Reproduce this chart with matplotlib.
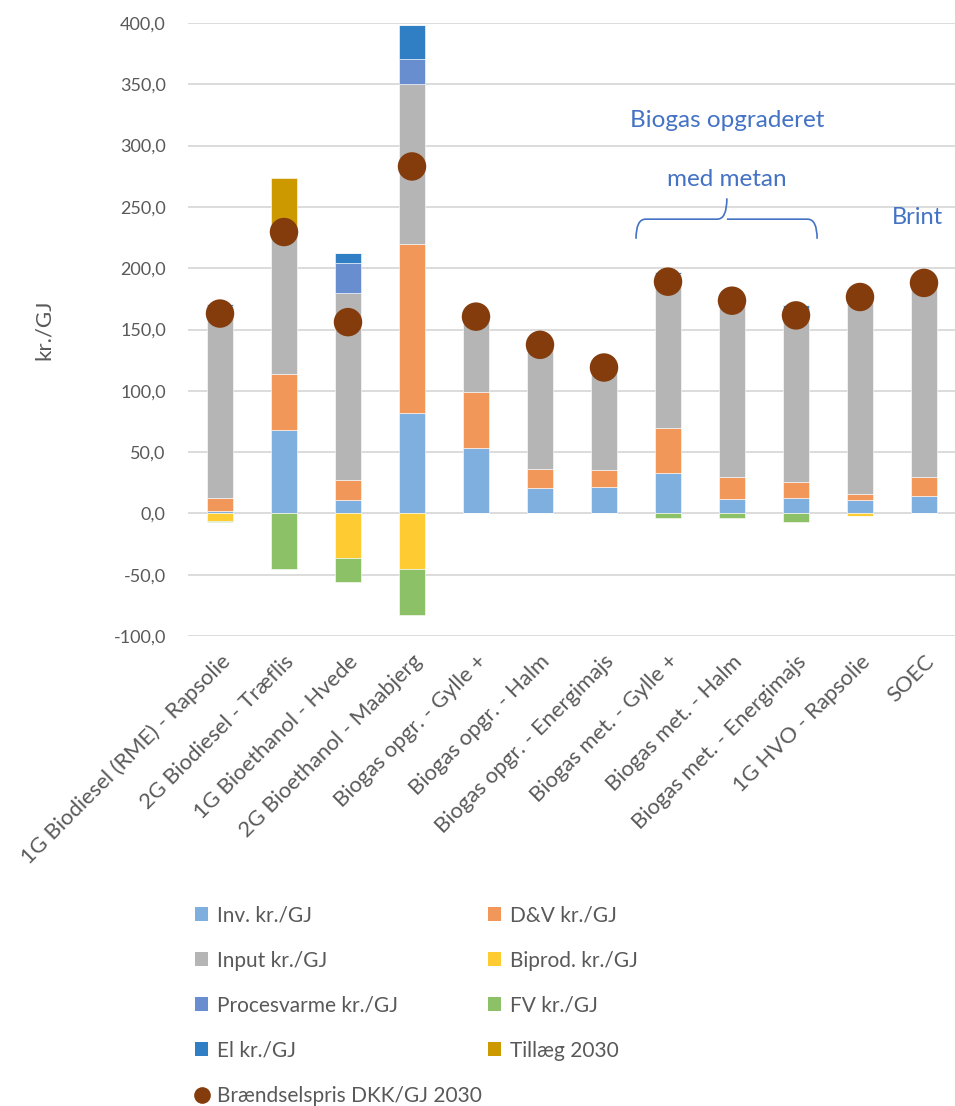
import numpy as np
import matplotlib
matplotlib.use("Agg")
import matplotlib.pyplot as plt
from matplotlib.path import Path
from matplotlib.patches import PathPatch
from matplotlib.lines import Line2D
from matplotlib.patches import Patch

plt.rcParams['font.family'] = ['Lato', 'DejaVu Sans']

categories = ["1G Biodiesel (RME) - Rapsolie", "2G Biodiesel - Træflis", "1G Bioethanol - Hvede",
              "2G Bioethanol - Maabjerg", "Biogas opgr. - Gylle +", "Biogas opgr. - Halm",
              "Biogas opgr. - Energimajs", "Biogas met. - Gylle +", "Biogas met. - Halm",
              "Biogas met. - Energimajs", "1G HVO - Rapsolie", "SOEC"]

inv =         [2.0, 68.0, 10.6, 81.6, 53.6, 21.0, 21.5, 32.6, 12.0, 12.5, 11.3, 14.6]
dv =          [10.5, 45.4, 16.4, 138.4, 45.1, 15.6, 13.5, 37.4, 17.5, 12.9, 4.4, 15.4]
input_ =      [157.0, 118.0, 152.5, 130.0, 57.3, 98.4, 81.0, 125.0, 140.5, 140.0, 158.3, 156.0]
biprod =      [-6.5, 0.0, -36.0, -45.0, 0.0, 0.0, 0.0, 0.0, 0.0, 0.0, -1.8, 0.0]
procesvarme = [0.0, 0.0, 24.5, 21.0, 0.0, 0.0, 0.0, 0.0, 0.0, 0.0, 0.0, 0.0]
fv =          [-0.8, -45.0, -20.0, -38.0, 0.0, 0.0, 0.0, -4.0, -4.0, -7.0, -0.5, 0.0]
el =          [1.5, 0.0, 8.0, 27.0, 1.5, 0.0, 0.0, 2.0, 0.0, 4.5, 0.0, 0.0]
tillaeg =     [0.0, 42.5, 0.0, 0.0, 0.0, 0.0, 0.0, 0.0, 0.0, 0.0, 0.0, 0.0]
price_2030 =  [163.0, 229.5, 156.0, 283.0, 160.5, 137.5, 119.0, 189.0, 173.5, 161.5, 176.5, 188.0]

yticks = [-100, -50, 0, 50, 100, 150, 200, 250, 300, 350, 400]

col_inv = "#7EAFDE"
col_dv = "#F1975A"
col_input = "#B5B5B5"
col_biprod = "#FFCB33"
col_proc = "#698ED0"
col_fv = "#8DC168"
col_el = "#307EC3"
col_till = "#CC9A00"
col_dot = "#843C0C"
txt_col = "#595959"
ann_col = "#4472C4"

fig = plt.figure(figsize=(9.55, 11.06), dpi=100)
ax = fig.add_axes([188/955, 1-636/1106, (956-188)/955, (636-23)/1106])

x = np.arange(len(categories))
w = 0.41
pos_series = [(inv, col_inv, "Inv. kr./GJ"), (dv, col_dv, "D&V kr./GJ"),
              (input_, col_input, "Input kr./GJ"), (procesvarme, col_proc, "Procesvarme kr./GJ"),
              (el, col_el, "El kr./GJ"), (tillaeg, col_till, "Tillæg 2030")]
neg_series = [(biprod, col_biprod, "Biprod. kr./GJ"), (fv, col_fv, "FV kr./GJ")]

bottom = np.zeros(len(x))
for vals, c, lab in pos_series:
    v = np.array(vals)
    ax.bar(x, v, w, bottom=bottom, color=c, edgecolor="#FFFFFF", linewidth=0.4, zorder=3)
    bottom = bottom + v
nbottom = np.zeros(len(x))
for vals, c, lab in neg_series:
    v = np.array(vals)
    ax.bar(x, v, w, bottom=nbottom, color=c, edgecolor="#FFFFFF", linewidth=0.4, zorder=3)
    nbottom = nbottom + v

ax.scatter(x, price_2030, s=420, color=col_dot, zorder=5, edgecolors="none")

ax.set_xlim(-0.5, len(x) - 0.5)
ax.set_ylim(-100, 400)
ax.set_yticks(yticks)
ax.set_yticklabels([f"{t:.1f}".replace(".", ",") for t in yticks], fontsize=13, color=txt_col)
ax.yaxis.grid(True, color="#D9D9D9", linewidth=1.3, zorder=0)
ax.set_axisbelow(True)
for s in ax.spines.values():
    s.set_visible(False)
ax.tick_params(axis="both", length=0)
ax.tick_params(axis="y", pad=16)
ax.set_xticks(x)
ax.set_xticklabels(categories, rotation=45, ha="right", rotation_mode="anchor",
                   fontsize=15.8, color=txt_col)
ax.tick_params(axis="x", pad=11)
ax.set_ylabel("kr./GJ", fontsize=16, color=txt_col, labelpad=43)

# annotations
ax.text(7.92, 320.5, "Biogas opgraderet", ha="center", va="center", fontsize=17.5, color=ann_col)
ax.text(7.92, 272, "med metan", ha="center", va="center", fontsize=17.5, color=ann_col)
ax.text(10.89, 241, "Brint", ha="center", va="center", fontsize=17, color=ann_col)

x0, xm, x1 = 6.5, 7.92, 9.33
yb, yh, yt = 224, 240, 257
verts = [(x0, yb), (x0, yh), (x0 + 0.15, yh),
         (xm - 0.15, yh), (xm, yh), (xm, yt),
         (xm, yh), (xm + 0.15, yh),
         (x1 - 0.15, yh), (x1, yh), (x1, yb)]
codes = [Path.MOVETO, Path.CURVE3, Path.CURVE3,
         Path.LINETO, Path.CURVE3, Path.CURVE3,
         Path.MOVETO, Path.LINETO,
         Path.LINETO, Path.CURVE3, Path.CURVE3]
ax.add_patch(PathPatch(Path(verts, codes), facecolor="none", edgecolor=ann_col, linewidth=1.2, zorder=6))

# legend (column-wise order to give row-wise appearance)
h = {lab: Patch(facecolor=c, edgecolor="none") for vals, c, lab in pos_series + neg_series}
dot = Line2D([], [], marker="o", linestyle="none", markersize=12, markerfacecolor=col_dot,
             markeredgecolor="none")
handles = [h["Inv. kr./GJ"], h["Input kr./GJ"], h["Procesvarme kr./GJ"], h["El kr./GJ"], dot,
           h["D&V kr./GJ"], h["Biprod. kr./GJ"], h["FV kr./GJ"], h["Tillæg 2030"]]
labels = ["Inv. kr./GJ", "Input kr./GJ", "Procesvarme kr./GJ", "El kr./GJ", "Brændselspris DKK/GJ 2030",
          "D&V kr./GJ", "Biprod. kr./GJ", "FV kr./GJ", "Tillæg 2030"]
leg = fig.legend(handles, labels, ncol=2, loc="upper left", bbox_to_anchor=(176/955, 1-887/1106),
                 frameon=False, fontsize=15, labelcolor=txt_col, handlelength=0.65, handleheight=0.65,
                 handletextpad=0.4, labelspacing=1.2, columnspacing=0.3)

fig.savefig("out.png", dpi=100)
